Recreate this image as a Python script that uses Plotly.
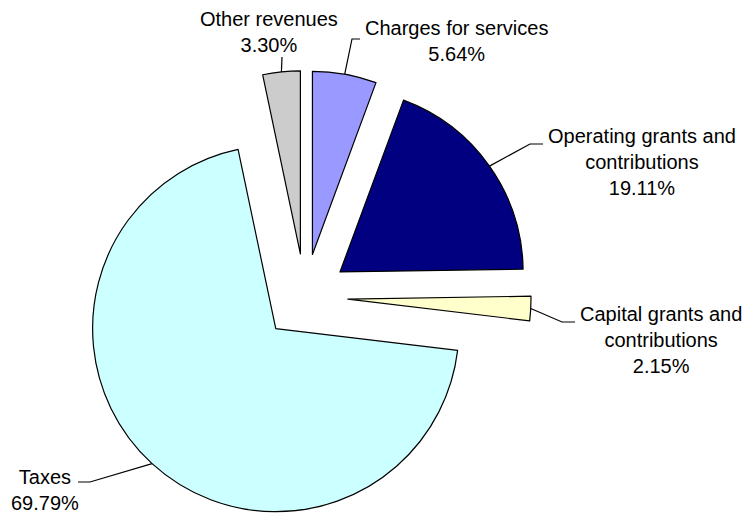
import numpy as np
import plotly.graph_objects as go

# data, clockwise from 12 o'clock
labels = ["Charges for services", "Operating grants and contributions",
          "Capital grants and contributions", "Taxes", "Other revenues"]
shares = [5.64, 19.11, 2.15, 69.79, 3.30]
label_lines = [["Charges for services"], ["Operating grants and", "contributions"],
               ["Capital grants and", "contributions"], ["Taxes"], ["Other revenues"]]
colors = ["#9999FF", "#000080", "#FFFFCC", "#CCFFFF", "#CCCCCC"]

W, H = 749, 523
pull = 0.235
dom_x = [0.087, 0.727]
dom_y = [0.0, 0.865]

# label box centres and leader elbows (pixels, from top-left)
label_pos = [(456, 41), (642, 162), (661, 340), (45, 490), (269, 32)]
elbows = [[(352, 39), (360, 39)],
          [(530, 144), (543, 144)],
          [(562, 322), (575, 322)],
          [(90, 482), (78, 482)],
          [(282, 57)]]

fig = go.Figure(go.Pie(
    labels=labels,
    values=shares,
    sort=False,
    direction="clockwise",
    rotation=0,
    pull=[pull] * len(shares),
    marker=dict(colors=colors, line=dict(color="black", width=1.2)),
    textinfo="none",
    hoverinfo="label+percent",
    domain=dict(x=dom_x, y=dom_y),
    showlegend=False,
))

# pie geometry, same way plotly sizes it
cx = W * sum(dom_x) / 2
cy = H * (1 - sum(dom_y) / 2)
r = min(W * (dom_x[1] - dom_x[0]), H * (dom_y[1] - dom_y[0])) / (2 + 2 * pull)

def to_paper(x, y):
    return x / W, 1 - y / H

total = sum(shares)
start = 0.0
for i, v in enumerate(shares):
    frac = v / total
    theta = 2 * np.pi * (start + frac / 2)
    start += frac
    ax = cx + (1 + pull) * r * np.sin(theta)
    ay = cy - (1 + pull) * r * np.cos(theta)
    pts = [(ax, ay)] + elbows[i]
    path = ""
    for j, (px, py) in enumerate(pts):
        X, Y = to_paper(px, py)
        path += ("M" if j == 0 else "L") + f"{X:.5f},{Y:.5f} "
    fig.add_shape(type="path", path=path, xref="paper", yref="paper",
                  line=dict(color="black", width=1.2))

    tx, ty = to_paper(*label_pos[i])
    text = "<br>".join(label_lines[i] + [f"{v:.2f}%"])
    fig.add_annotation(x=tx, y=ty, xref="paper", yref="paper", text=text,
                       showarrow=False, xanchor="center", yanchor="middle",
                       align="center",
                       font=dict(family="Liberation Sans, Arial", size=20, color="black"))

fig.update_layout(
    width=W, height=H,
    margin=dict(l=0, r=0, t=0, b=0),
    paper_bgcolor="white",
    plot_bgcolor="white",
)

# drop the browser's default body margin so the figure sits at 0,0
fig.write_html("out.html", config={"displayModeBar": False},
               post_script="document.body.style.margin='0';")
